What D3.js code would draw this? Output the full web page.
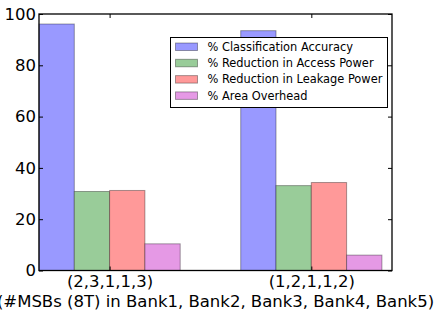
<!DOCTYPE html>
<html>
<head>
<meta charset="utf-8">
<script src="https://cdn.jsdelivr.net/npm/d3@7"></script>
<style>
  body { margin: 0; background: #fff; }
  svg { display: block; font-family: "DejaVu Sans", sans-serif; }
</style>
</head>
<body>
<div id="chart"></div>
<script>
// chart data
const categories = ["(2,3,1,1,3)", "(1,2,1,1,2)"];
const seriesNames = ["% Classification Accuracy", "% Reduction in Access Power",
                     "% Reduction in Leakage Power", "% Area Overhead"];
const accuracy = [96.1, 93.5];
const accessPower = [30.8, 33.1];
const leakagePower = [31.2, 34.3];
const areaOverhead = [10.4, 6.0];
const yTicks = [0, 20, 40, 60, 80, 100];
const xLabel = "(#MSBs (8T) in Bank1, Bank2, Bank3, Bank4, Bank5)";

const series = [accuracy, accessPower, leakagePower, areaOverhead];
const colors = ["#9999ff", "#99cc99", "#ff9999", "#e599e5"];

const W = 437, H = 314;
const margin = {top: 14, right: 45, bottom: 43.5, left: 39};
const barWidth = 0.175;

const svg = d3.select("#chart").append("svg")
    .attr("width", W).attr("height", H);

const x = d3.scaleLinear().domain([0, 1.75]).range([margin.left, W - margin.right]);
const y = d3.scaleLinear().domain([0, 100]).range([H - margin.bottom, margin.top]);

// bars
series.forEach((vals, k) => {
    svg.append("g").selectAll("rect")
        .data(vals)
        .join("rect")
        .attr("x", (d, i) => x(i + k * barWidth))
        .attr("y", d => y(d))
        .attr("width", (d, i) => x(i + (k + 1) * barWidth) - x(i + k * barWidth))
        .attr("height", d => y(0) - y(d))
        .attr("fill", colors[k])
        .attr("stroke", "#000")
        .attr("stroke-opacity", 0.35)
        .attr("stroke-width", 1);
});

const tickPos = categories.map((c, i) => i + 2 * barWidth);

// axes: ticks inward on all four sides
const leftAxis = svg.append("g")
    .attr("transform", `translate(${margin.left},0)`)
    .call(d3.axisLeft(y).tickValues(yTicks).tickSize(-4).tickPadding(3));
const rightAxis = svg.append("g")
    .attr("transform", `translate(${W - margin.right},0)`)
    .call(d3.axisRight(y).tickValues(yTicks).tickSize(-4).tickFormat(""));
const bottomAxis = svg.append("g")
    .attr("transform", `translate(0,${H - margin.bottom})`)
    .call(d3.axisBottom(x).tickValues(tickPos).tickSize(-4).tickPadding(4.5)
        .tickFormat((d, i) => categories[i]));
const topAxis = svg.append("g")
    .attr("transform", `translate(0,${margin.top})`)
    .call(d3.axisTop(x).tickValues(tickPos).tickSize(-4).tickFormat(""));

[leftAxis, rightAxis, bottomAxis, topAxis].forEach(g => {
    g.select(".domain").remove();
    g.selectAll(".tick line").attr("stroke", "#000").attr("stroke-width", 1);
    g.selectAll(".tick text").attr("fill", "#000")
        .style("font-size", "16.5px").style("font-family", "DejaVu Sans");
});

// frame
svg.append("rect")
    .attr("x", margin.left).attr("y", margin.top)
    .attr("width", W - margin.right - margin.left)
    .attr("height", H - margin.bottom - margin.top)
    .attr("fill", "none").attr("stroke", "#000").attr("stroke-width", 1.3);

// x label
svg.append("text")
    .attr("x", (margin.left + W - margin.right) / 2)
    .attr("y", 306.5)
    .attr("text-anchor", "middle")
    .style("font-size", "16.5px")
    .text(xLabel);

// legend
const lg = svg.append("g").attr("transform", "translate(170.5,37.5)");
lg.append("rect")
    .attr("width", 217).attr("height", 70)
    .attr("fill", "#fff").attr("stroke", "#000").attr("stroke-width", 1);
seriesNames.forEach((name, k) => {
    const row = lg.append("g").attr("transform", `translate(0,${9 + k * 16.3})`);
    row.append("rect")
        .attr("x", 5).attr("y", -3.5).attr("width", 22).attr("height", 7.5)
        .attr("fill", colors[k]).attr("stroke", "#000").attr("stroke-opacity", 0.35);
    row.append("text")
        .attr("x", 37).attr("y", 4.2)
        .style("font-size", "11.4px")
        .text(name);
});
</script>
</body>
</html>
